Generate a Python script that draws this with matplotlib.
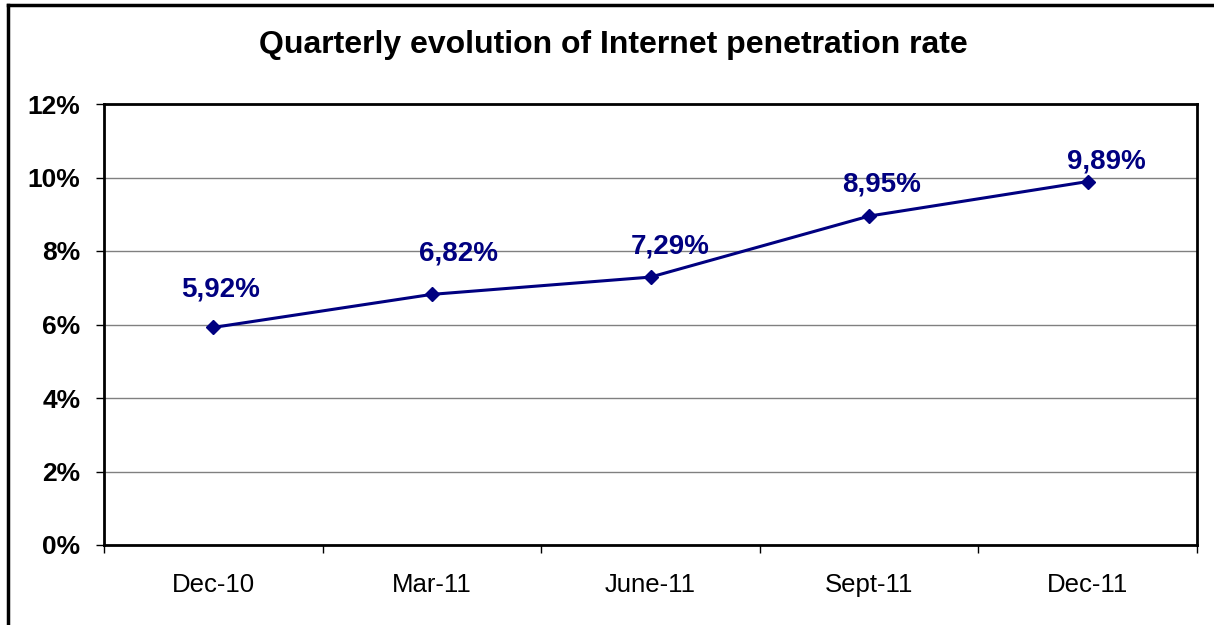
import matplotlib.pyplot as plt
from matplotlib.lines import Line2D

quarters = ['Dec-10', 'Mar-11', 'June-11', 'Sept-11', 'Dec-11']
penetration = [5.92, 6.82, 7.29, 8.95, 9.89]
point_labels = ['5,92%', '6,82%', '7,29%', '8,95%', '9,89%']
# label offsets in pixels (dx, dy) relative to each point
label_offsets = [(7, 38), (27, 41), (20, 31), (12, 32), (19, 20)]

navy = '#000080'
plt.rcParams['font.family'] = ['Liberation Sans', 'DejaVu Sans']

fig = plt.figure(figsize=(12.14, 6.25), dpi=100)
ax = fig.add_axes([104 / 1214, 1 - 545 / 625, (1197 - 104) / 1214, (545 - 104) / 625])

x = list(range(len(quarters)))
ax.plot(x, penetration, color=navy, linewidth=2.2, marker='D', markersize=7, zorder=3)

for xi, yi, lab, (dx, dy) in zip(x, penetration, point_labels, label_offsets):
    ax.annotate(lab, (xi, yi), xytext=(dx, dy), textcoords='offset pixels',
                ha='center', va='center', fontsize=20, fontweight='bold', color=navy, zorder=4)

ax.set_xlim(-0.5, len(quarters) - 0.5)
ax.set_ylim(0, 12)
ax.set_yticks(range(0, 13, 2))
ax.set_yticklabels([f'{v}%' for v in range(0, 13, 2)], fontsize=19, fontweight='bold')
ax.yaxis.grid(True, color='#808080', linewidth=1)
ax.set_axisbelow(True)

# category boundaries as major ticks, labels at centres
ax.set_xticks([i - 0.5 for i in range(len(quarters) + 1)])
ax.set_xticklabels([])
ax.set_xticks(x, minor=True)
ax.set_xticklabels(quarters, minor=True, fontsize=18.5)
ax.tick_params(axis='x', which='minor', length=0, pad=20)
ax.tick_params(axis='x', which='major', length=6, width=1, direction='out')
ax.tick_params(axis='y', length=6, width=1, direction='out', pad=11)

for s in ax.spines.values():
    s.set_linewidth(2)
    s.set_color('black')

fig.text(0.505, 1 - 45 / 625, 'Quarterly evolution of Internet penetration rate',
         ha='center', va='center', fontsize=23, fontweight='bold')

# outer chart border (top and left visible)
fig.add_artist(Line2D([8 / 1214, 1], [1 - 5 / 625, 1 - 5 / 625], color='black', linewidth=2.5))
fig.add_artist(Line2D([8 / 1214, 8 / 1214], [0, 1 - 5 / 625], color='black', linewidth=2.5))

fig.savefig('out.png', dpi=100)
